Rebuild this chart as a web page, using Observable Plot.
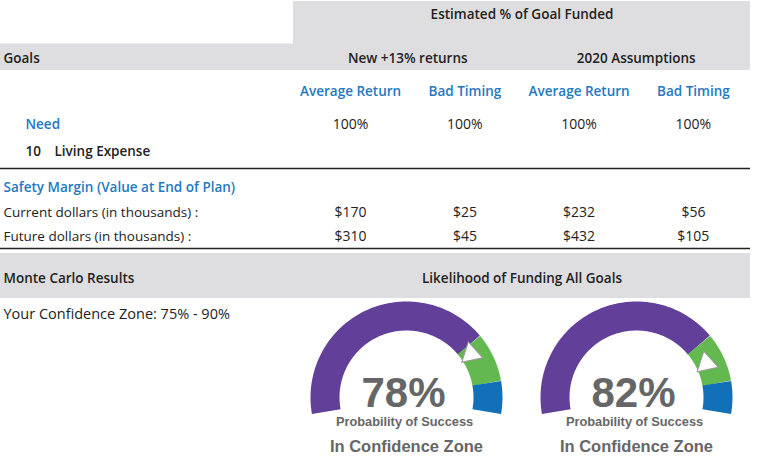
<!DOCTYPE html>
<html><head><meta charset="utf-8">
<script src="https://cdn.jsdelivr.net/npm/d3@7"></script>
<script src="https://cdn.jsdelivr.net/npm/@observablehq/plot@0.6"></script>
<style>
body{margin:0;background:#fff;}
#wrap{position:relative;width:760px;height:464px;overflow:hidden;}
#wrap > svg{position:absolute;top:0;left:0;}
#wrap > svg.gauge{top:298px;}
</style></head><body><div id="wrap"></div>
<script>
// ---------- data ----------
const headerTitle = "Estimated % of Goal Funded";
const scenarios = ["New +13% returns", "2020 Assumptions"];
const cases = ["Average Return", "Bad Timing"];
const needFunded = [100, 100, 100, 100];
const currentDollars = [170, 25, 232, 56];
const futureDollars = [310, 45, 432, 105];
const goalNumber = 10;
const goalName = "Living Expense";
const successProb = [78, 82];
const confidenceZone = [75, 90];

// ---------- layout & style ----------
const font = "'Open Sans', sans-serif";
const gaugeFont = "'Liberation Sans', Arial, sans-serif";
const semi = 600;
const gray = "#dedee0", dark = "#222", blue = "#2478c2", txtGray = "#666";
const bandColors = ["#623f98", "#63b84f", "#1170b8"];
const rowY = {bandTop: 1, bandMid: 44, bandBot: 70, title: 14.5, group: 58.5, sub: 91.5, need: 123.7,
  goal: 150.7, rule1: 168, margin: 187, current: 211.7, future: 235.7, rule2: 248,
  mcTop: 253, mcBot: 298, mc: 278.5, zone: 313.5};

const cells = [];
scenarios.forEach((s, i) => cases.forEach((c, j) => {
  const k = i * 2 + j;
  cells.push({col: k + 1, scenario: s, kase: c, need: needFunded[k], cur: currentDollars[k], fut: futureDollars[k]});
}));

const left = (text, y, opts = {}) => Plot.text([text], {frameAnchor: "left", textAnchor: "start", y: () => y, text: d => d, dx: 3, fontSize: 13.5, fill: dark, ...opts});

const table = Plot.plot({
  width: 760, height: 464, marginLeft: 0, marginRight: 10, marginTop: 0, marginBottom: 0,
  x: {type: "linear", domain: [0.5, 4.5], range: [293, 750], axis: null},
  y: {type: "linear", domain: [0, 464], range: [0, 464], axis: null},
  style: {fontFamily: font, background: "transparent"},
  marks: [
    Plot.rect([headerTitle], {x1: 0.5, x2: 4.5, y1: () => rowY.bandTop, y2: () => rowY.bandMid, fill: gray}),
    Plot.rect(["group"], {y1: () => rowY.bandMid - 0.5, y2: () => rowY.bandBot, fill: gray}),
    Plot.rect(["mc"], {y1: () => rowY.mcTop, y2: () => rowY.mcBot, fill: gray}),
    Plot.ruleY([rowY.rule1, rowY.rule2], {stroke: dark, strokeWidth: 1.5}),
    Plot.text([headerTitle], {x: 2.5, y: () => rowY.title, text: d => d, fontWeight: semi, fontSize: 13.5, fill: dark}),
    Plot.text(scenarios, {x: (d, i) => 1.5 + 2 * i, y: () => rowY.group, text: d => d, fontWeight: semi, fontSize: 13.5, fill: dark}),
    left("Goals", rowY.group, {fontWeight: semi}),
    Plot.text(cells, {x: "col", y: () => rowY.sub, text: "kase", fontWeight: semi, fontSize: 13.5, fill: blue}),
    left("Need", rowY.need, {dx: 25, fill: blue, fontWeight: semi}),
    Plot.text(cells, {x: "col", y: () => rowY.need, text: d => d.need + "%", fontSize: 14, fill: dark}),
    left(String(goalNumber), rowY.goal, {dx: 25, fontWeight: semi}),
    left(goalName, rowY.goal, {dx: 54, fontWeight: semi}),
    left("Safety Margin (Value at End of Plan)", rowY.margin, {fill: blue, fontWeight: semi}),
    left("Current dollars (in thousands) :", rowY.current),
    left("Future dollars (in thousands) :", rowY.future),
    Plot.text(cells, {x: "col", y: () => rowY.current, text: d => "$" + d.cur, fontSize: 14, fill: dark}),
    Plot.text(cells, {x: "col", y: () => rowY.future, text: d => "$" + d.fut, fontSize: 14, fill: dark}),
    left("Monte Carlo Results", rowY.mc, {fontWeight: semi}),
    Plot.text(["Likelihood of Funding All Goals"], {x: 2.5, y: () => rowY.mc, text: d => d, fontWeight: semi, fontSize: 13.5, fill: dark}),
    left(`Your Confidence Zone: ${confidenceZone[0]}% - ${confidenceZone[1]}%`, rowY.zone, {fontSize: 14.5})
  ]
});
document.getElementById("wrap").appendChild(table);

// ---------- gauges ----------
const angle = v => (190 - 2 * v) * Math.PI / 180; // value 0..100 -> radians
const rMid = 0.849, rPtr = 0.81;
const bands = [[0, confidenceZone[0]], [confidenceZone[0], confidenceZone[1]], [confidenceZone[1], 100]];
const arcPts = [];
bands.forEach(([lo, hi], k) => d3.range(lo, hi, 1).concat([hi]).forEach(v => arcPts.push({band: k, v})));

successProb.forEach((p, i) => {
  const g = Plot.plot({
    width: 230, height: 166, margin: 0,
    x: {domain: [-1.198, 1.198], axis: null},
    y: {domain: [-0.698, 1.031], axis: null},
    color: {type: "identity"},
    style: {background: "transparent", fontFamily: gaugeFont},
    marks: [
      Plot.line(arcPts, {x: d => rMid * Math.cos(angle(d.v)), y: d => rMid * Math.sin(angle(d.v)), z: "band",
        stroke: d => bandColors[d.band], strokeWidth: 29, strokeLinecap: "butt", strokeLinejoin: "round"}),
      Plot.dot([p], {x: d => rPtr * Math.cos(angle(d)), y: d => rPtr * Math.sin(angle(d)), symbol: "triangle",
        r: 8, fill: "white", stroke: "#999", strokeWidth: 1, rotate: -12}),
      Plot.text([p], {frameAnchor: "middle", text: d => d + "%", dx: -3, dy: 12, fontSize: 42, fontWeight: "bold", fill: txtGray}),
      Plot.text([p], {frameAnchor: "middle", text: () => "Probability of Success", dx: -2, dy: 40, fontSize: 12.8, fontWeight: "bold", fill: txtGray}),
      Plot.text([p], {frameAnchor: "middle", text: () => "In Confidence Zone", dy: 65, fontSize: 16.5, fontWeight: "bold", fill: txtGray})
    ]
  });
  g.classList.add("gauge");
  g.style.left = (291 + 230 * i) + "px";
  document.getElementById("wrap").appendChild(g);
});
</script></body></html>
